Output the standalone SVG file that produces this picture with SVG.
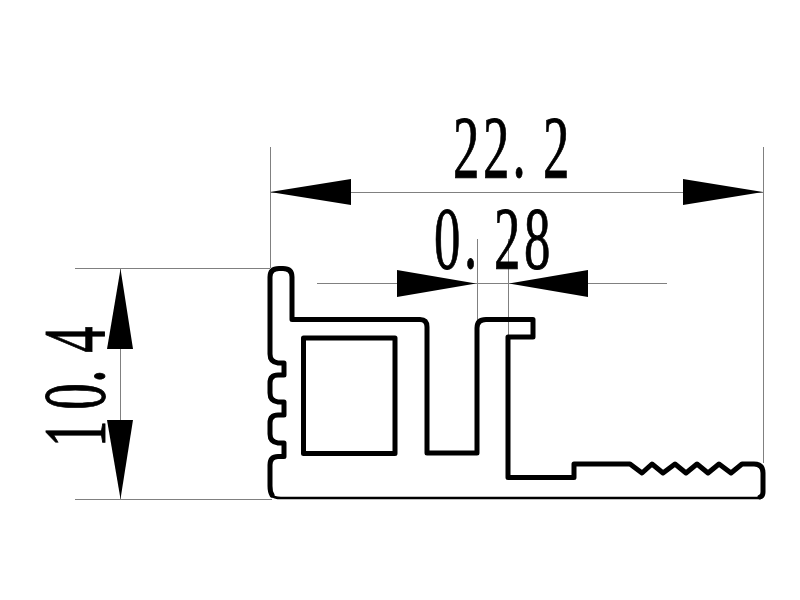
<svg xmlns="http://www.w3.org/2000/svg" width="800" height="600" viewBox="0 0 800 600">
<style>
.dim{fill:none;stroke:#808080;stroke-width:1}
.ar{fill:#000;stroke:none}
.pr{fill:none;stroke:#000;stroke-width:5;stroke-linejoin:round;stroke-linecap:round}
text{font-family:"Liberation Serif","Times New Roman",serif;font-size:88px;fill:#000;stroke:#000;stroke-width:.9}
</style>
<rect width="800" height="600" fill="#fff"/>
<g id="connectors">
<path class="dim" d="M270.500 147V268M763.500 147V463M270 192.500H763M317 283.500H667M477.500 239V320M508.500 239V337M120.500 268V499M75 268.500H270M75 499.500H272"/>
<polygon class="ar" points="270,192 351,179 351,205"/>
<polygon class="ar" points="763,192 683,179 683,205"/>
<polygon class="ar" points="476,283.500 397,270 397,297"/>
<polygon class="ar" points="509,283.500 588,270 588,297"/>
<polygon class="ar" points="120.500,269 107,349 133,349"/>
<polygon class="ar" points="120.500,499 107,420 133,420"/>
</g>
<g id="profile">
<path class="pr" d="M272 495Q270 492 270 486V465Q270 456.500 278 456.500H284V443H278Q270 442 270 434V423Q270 415 278 415H284V402H278Q270 401 270 393V383Q270 375 278 375H284V363H278Q270 362 270 354V277Q270 268.500 279 268.500H283Q292 268.500 292 277V319.500H420Q427 319.500 427 327V453H477V328Q477 319.500 486 319.500H533V337H508V477.500H574V464H630L642 473L652 464L663 473L675 464L686 473L697 464L708 473L719 464L731 473L742 464H754Q763 464 763 473V492Q763 496 760 497"/>
<path d="M271 495Q274 498 281 498H758Q762 498 763 495" fill="none" stroke="#000" stroke-width="2.500"/>
<rect class="pr" x="303.500" y="338" width="91.500" height="115.500"/>
</g>
<g id="label-22-2"><text transform="translate(453,177) scale(.6,1)" x="0 50 99 150">22.2</text></g>
<g id="label-0-28"><text transform="translate(434,268) scale(.6,1)" x="0 50 100 150">0.28</text></g>
<g id="label-10-4"><text transform="translate(104,447) rotate(-90) scale(.6,1)" x="0 62 107 157">10.4</text></g>
</svg>
